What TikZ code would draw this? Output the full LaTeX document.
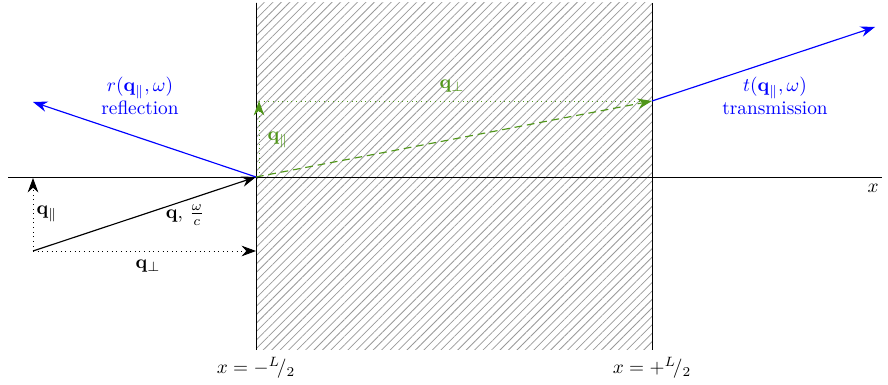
\documentclass[tikz,border=0pt]{standalone}
\usepackage{amsmath}
\usepackage{amssymb}
\usetikzlibrary{arrows.meta, calc, patterns.meta}
\definecolor{qgreen}{RGB}{80,150,25}

\begin{document}
\begin{tikzpicture}[x=0.5185pt,y=-0.5185pt]
        \tikzset{ArrowStyle/.style = {-{Stealth[length=7.5pt,width=5.5pt,inset=2.5pt]}}}
    \useasboundingbox (0,0) rectangle (888,385);

    % slab
    \fill[pattern={Lines[angle=45,distance=3.1pt,line width=0.4pt]},pattern color=gray!80] (256,3) rectangle (652,350);
    \coordinate (slabtl) at (256,3);
    \coordinate (slabbl) at (256,350);
    \coordinate (slabtr) at (652,3);
    \coordinate (slabbr) at (652,350);
    \draw (slabtl) -- (slabbl);
    \draw (slabtr) -- (slabbr);

    % points
    \coordinate (axl) at (8,177);
    \coordinate (axr) at (882,177);
    \coordinate (src) at (33,251);
    \coordinate (hit) at (256,177);
    \coordinate (exit) at (652,101);
    \coordinate (refl) at (33,102);
    \coordinate (trans) at (875,27);
    \coordinate (qpar) at (33,178);
    \coordinate (qperp) at (256,251);
    \coordinate (ghit) at (259,177);
    \coordinate (gpar) at (259,101);

    \draw (axl) -- (axr);

    % incident
    \path[draw,semithick,ArrowStyle] (src) -- (hit);
    \path[draw,dotted,ArrowStyle] (src) -- (qpar);
    \path[draw,dotted,ArrowStyle] (src) -- (qperp);

    % reflected, transmitted
    \path[draw,semithick,blue,ArrowStyle] (hit) -- (refl);
    \path[draw,semithick,blue,ArrowStyle] (exit) -- (trans);

    % inside the slab
    \path[draw,semithick,qgreen,dash pattern=on 4pt off 2.5pt,ArrowStyle] (hit) -- (exit);
    \path[draw,qgreen,dotted,ArrowStyle] (ghit) -- (gpar);
    \path[draw,qgreen,dotted] (gpar) -- (exit);

    % labels
    \node (lqpar) at (47,214) {$\mathbf{q}_\parallel$};
    \node (lq) at (185,215) {$\mathbf{q},\,\frac{\omega}{c}$};
    \node (lqperp) at (148,266) {$\mathbf{q}_\perp$};
    \node[text=qgreen] (gqpar) at (278,140) {$\mathbf{q}_\parallel$};
    \node[text=qgreen] (gqperp) at (452,86) {$\mathbf{q}_\perp$};
    \node[text=blue,align=center] (rlab) at (140,96) {$r(\mathbf{q}_\parallel,\omega)$\\reflection};
    \node[text=blue,align=center] (tlab) at (775,96) {$t(\mathbf{q}_\parallel,\omega)$\\transmission};
    \node (xlab) at (873,188) {$x$};
    \node (lleft) at (256,368) {$x=-{}^{L}\!/_{2}$};
    \node (lright) at (652,368) {$x=+{}^{L}\!/_{2}$};
\end{tikzpicture}
\end{document}
